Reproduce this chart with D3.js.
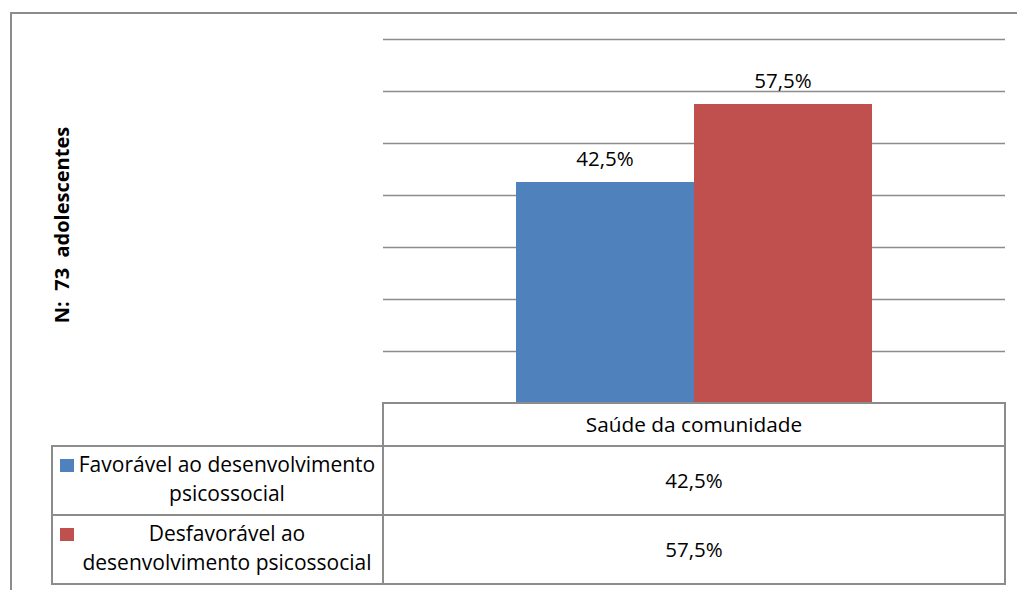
<!DOCTYPE html>
<html>
<head>
<meta charset="UTF-8">
<title>Saúde da comunidade</title>
<script src="https://d3js.org/d3.v7.min.js"></script>
<style>
  body { margin: 0; background: #fff; }
  text { font-family: "Open Sans", "Noto Sans", sans-serif; fill: #000; }
</style>
</head>
<body>
<div id="chart"></div>
<script>
// data
var categories = ["Saúde da comunidade"];
var seriesNames = ["Favorável ao desenvolvimento psicossocial", "Desfavorável ao desenvolvimento psicossocial"];
var legendLines = [["Favorável ao desenvolvimento", "psicossocial"], ["Desfavorável ao", "desenvolvimento psicossocial"]];
var favoravel = [42.5];
var desfavoravel = [57.5];
var yTicks = [10, 20, 30, 40, 50, 60, 70];
var colors = ["#4F81BD", "#C0504D"];

var W = 1017, H = 590;
var plot = {left: 383, right: 1005, top: 39, bottom: 403};
var gridColor = "#8c8c8c";

var svg = d3.select("#chart").append("svg")
    .attr("width", W)
    .attr("height", H);

// outer frame (cut off on the right and bottom)
svg.append("path")
    .attr("d", "M11,590 V13 H1017")
    .attr("fill", "none")
    .attr("stroke", gridColor)
    .attr("stroke-width", 2);

var y = d3.scaleLinear()
    .domain([0, 70])
    .range([plot.bottom, plot.top]);

var x0 = d3.scaleBand()
    .domain(categories)
    .range([plot.left, plot.right])
    .paddingInner(0)
    .paddingOuter(0.3736);

var x1 = d3.scaleBand()
    .domain(seriesNames)
    .range([0, x0.bandwidth()]);

// gridlines
var grid = svg.append("g")
    .attr("transform", "translate(" + plot.left + ",0)")
    .call(d3.axisLeft(y).tickValues(yTicks).tickSize(-(plot.right - plot.left)).tickFormat(""));
grid.select(".domain").remove();
grid.selectAll(".tick line")
    .attr("stroke", gridColor)
    .attr("stroke-width", 1.6);

var rows = categories.map(function(c, i) {
  return {cat: c, values: [favoravel[i], desfavoravel[i]]};
});

var fmt = function(v) { return d3.format(".1f")(v).replace(".", ",") + "%"; };

var groups = svg.selectAll("g.cat")
  .data(rows)
  .enter().append("g")
    .attr("class", "cat")
    .attr("transform", function(d) { return "translate(" + x0(d.cat) + ",0)"; });

groups.selectAll("rect")
  .data(function(d) { return d.values.map(function(v, j) { return {name: seriesNames[j], value: v, idx: j}; }); })
  .enter().append("rect")
    .attr("x", function(d) { return x1(d.name); })
    .attr("y", function(d) { return y(d.value); })
    .attr("width", x1.bandwidth())
    .attr("height", function(d) { return y(0) - y(d.value); })
    .attr("fill", function(d) { return colors[d.idx]; });

groups.selectAll("text.lbl")
  .data(function(d) { return d.values.map(function(v, j) { return {name: seriesNames[j], value: v}; }); })
  .enter().append("text")
    .attr("class", "lbl")
    .attr("x", function(d) { return x1(d.name) + x1.bandwidth() / 2; })
    .attr("y", function(d) { return y(d.value) - 16; })
    .attr("text-anchor", "middle")
    .style("font-size", "20.5px")
    .text(function(d) { return fmt(d.value); });

// y axis title
svg.append("text")
    .attr("transform", "translate(69,225) rotate(-90)")
    .attr("text-anchor", "middle")
    .style("font-size", "20px")
    .style("font-weight", "bold")
    .style("white-space", "pre")
    .text("N:  73  adolescentes");

// data table
var tbl = {left: 52, top: plot.bottom, headH: 43, rowH: 69};
var tableG = svg.append("g")
    .attr("fill", "none")
    .attr("stroke", gridColor)
    .attr("stroke-width", 2);

tableG.append("rect")
    .attr("x", plot.left).attr("y", tbl.top)
    .attr("width", plot.right - plot.left).attr("height", tbl.headH);

seriesNames.forEach(function(s, i) {
  var ry = tbl.top + tbl.headH + i * tbl.rowH;
  tableG.append("rect")
      .attr("x", tbl.left).attr("y", ry)
      .attr("width", plot.right - tbl.left).attr("height", tbl.rowH);
  tableG.append("line")
      .attr("x1", plot.left).attr("x2", plot.left)
      .attr("y1", ry).attr("y2", ry + tbl.rowH);
});

// header
categories.forEach(function(c) {
  svg.append("text")
      .attr("x", x0(c) + x0.bandwidth() / 2)
      .attr("y", tbl.top + tbl.headH / 2 + 7)
      .attr("text-anchor", "middle")
      .style("font-size", "20.8px")
      .text(c);
});

// rows: legend key, name, values
var seriesValues = [favoravel, desfavoravel];
seriesNames.forEach(function(s, i) {
  var ry = tbl.top + tbl.headH + i * tbl.rowH;
  svg.append("rect")
      .attr("x", 60).attr("y", ry + 13)
      .attr("width", 14).attr("height", 13)
      .attr("fill", colors[i]);
  legendLines[i].forEach(function(line, k) {
    svg.append("text")
        .attr("x", 227)
        .attr("y", ry + 26 + k * 28.5)
        .attr("text-anchor", "middle")
        .style("font-size", "21px")
        .text(line);
  });
  categories.forEach(function(c, ci) {
    svg.append("text")
        .attr("x", x0(c) + x0.bandwidth() / 2)
        .attr("y", ry + tbl.rowH / 2 + 7)
        .attr("text-anchor", "middle")
        .style("font-size", "20.5px")
        .text(fmt(seriesValues[i][ci]));
  });
});
</script>
</body>
</html>
